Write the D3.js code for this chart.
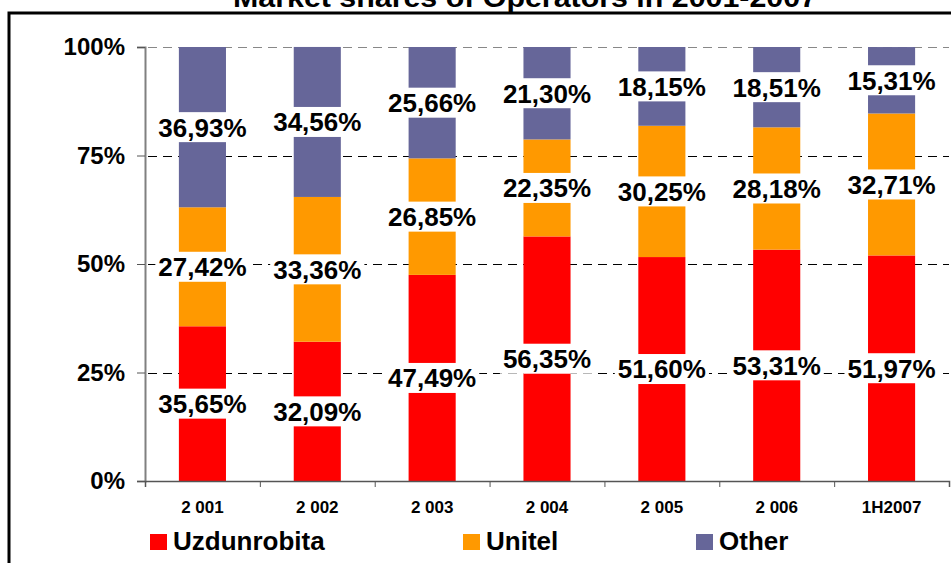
<!DOCTYPE html>
<html>
<head>
<meta charset="utf-8">
<script src="https://cdn.jsdelivr.net/npm/d3@7"></script>
<style>
  body { margin: 0; background: #fff; }
  svg { display: block; font-family: "Liberation Sans", Arial, sans-serif; font-weight: bold; }
</style>
</head>
<body>
<div id="chart"></div>
<script>
const categories = ['2 001', '2 002', '2 003', '2 004', '2 005', '2 006', '1H2007'];
const uzdunrobita = [35.65, 32.09, 47.49, 56.35, 51.60, 53.31, 51.97];
const unitel = [27.42, 33.36, 26.85, 22.35, 30.25, 28.18, 32.71];
const other = [36.93, 34.56, 25.66, 21.30, 18.15, 18.51, 15.31];
const seriesNames = ['Uzdunrobita', 'Unitel', 'Other'];
const colors = ['#ff0000', '#ff9900', '#666699'];
const yTicks = [0, 25, 50, 75, 100];

const width = 951;
const height = 563;
const svg = d3.select('#chart')
  .append('svg')
  .attr('width', width)
  .attr('height', height);

// outer frame
svg.append('rect')
  .attr('x', 9).attr('y', 13)
  .attr('width', 1000).attr('height', 600)
  .attr('fill', 'none')
  .attr('stroke', '#000')
  .attr('stroke-width', 3);

svg.append('text')
  .attr('x', 525).attr('y', 7)
  .attr('text-anchor', 'middle')
  .attr('font-size', 28)
  .attr('textLength', 584)
  .attr('lengthAdjust', 'spacingAndGlyphs')
  .text('Market shares of Operators in 2001-2007');

const x0 = 145, x1 = 949;
const x = d3.scaleBand().domain(categories).range([x0, x1]);
const y = d3.scaleLinear().domain([0, 100]).range([481, 47]);
const barW = x.bandwidth() * 0.41;

// gridlines
svg.append('g')
  .selectAll('line')
  .data(yTicks.filter(d => d > 0))
  .join('line')
  .attr('x1', x0 + 3).attr('x2', x1)
  .attr('y1', d => Math.round(y(d)) + 0.5)
  .attr('y2', d => Math.round(y(d)) + 0.5)
  .attr('stroke', d => d === 100 ? '#888' : '#000')
  .attr('stroke-dasharray', '9,6');

// stacked data
const rows = categories.map((c, i) => ({ cat: c, Uzdunrobita: uzdunrobita[i], Unitel: unitel[i], Other: other[i] }));
const stack = d3.stack().keys(seriesNames)(rows);

const layers = svg.append('g')
  .selectAll('g')
  .data(stack)
  .join('g')
  .attr('fill', (d, i) => colors[i]);

layers.selectAll('rect')
  .data(d => d)
  .join('rect')
  .attr('x', d => x(d.data.cat) + (x.bandwidth() - barW) / 2)
  .attr('width', barW)
  .attr('y', d => y(d[1]))
  .attr('height', d => y(d[0]) - y(d[1]));

// value labels with white boxes
const fmt = v => v.toFixed(2).replace('.', ',') + '%';
const labels = svg.append('g');
stack.forEach(layer => {
  layer.forEach(d => {
    const cx = x(d.data.cat) + x.bandwidth() / 2;
    const cy = y((d[0] + d[1]) / 2);
    const g = labels.append('g').attr('transform', `translate(${cx},${cy})`);
    const t = g.append('text')
      .attr('text-anchor', 'middle')
      .attr('dy', '0.36em')
      .attr('font-size', 26)
      .text(fmt(d[1] - d[0]));
    const w = t.node().getComputedTextLength();
    g.insert('rect', 'text')
      .attr('x', -w / 2 - 3).attr('y', -15)
      .attr('width', w + 6).attr('height', 30)
      .attr('fill', '#fff');
  });
});

// y axis
const yAxis = svg.append('g')
  .attr('transform', `translate(${x0},0)`)
  .call(d3.axisLeft(y).tickValues(yTicks).tickSize(8).tickPadding(12).tickFormat(d => d + '%'));
yAxis.select('.domain').attr('stroke', '#808080').attr('stroke-width', 2);
yAxis.selectAll('.tick line').attr('stroke', '#555');
yAxis.selectAll('.tick text')
  .attr('font-size', 24)
  .attr('font-family', '"Liberation Sans", Arial, sans-serif')
  .attr('font-weight', 'bold')
  .attr('fill', '#000');

// x axis: boundary ticks
const xb = d3.scaleLinear().domain([0, categories.length]).range([x0, x1]);
const xAxisTicks = svg.append('g')
  .attr('transform', 'translate(0,481)')
  .call(d3.axisBottom(xb).ticks(categories.length).tickSize(6).tickFormat(''));
xAxisTicks.select('.domain').attr('stroke', '#555').attr('stroke-width', 1.5);
xAxisTicks.selectAll('.tick line').attr('stroke', '#555');

// x labels
const xAxis = svg.append('g')
  .attr('transform', 'translate(0,481)')
  .call(d3.axisBottom(x).tickSize(0).tickPadding(20));
xAxis.select('.domain').remove();
xAxis.selectAll('.tick text')
  .attr('font-size', 17)
  .attr('font-family', '"Liberation Sans", Arial, sans-serif')
  .attr('font-weight', 'bold')
  .attr('fill', '#000');

// legend
const legendX = [150, 463, 696];
const legend = svg.append('g')
  .selectAll('g')
  .data(seriesNames)
  .join('g')
  .attr('transform', (d, i) => `translate(${legendX[i]},534)`);
legend.append('rect')
  .attr('width', 17).attr('height', 16)
  .attr('fill', (d, i) => colors[i]);
legend.append('text')
  .attr('x', 23).attr('y', 16)
  .attr('font-size', 26)
  .text(d => d);
</script>
</body>
</html>
